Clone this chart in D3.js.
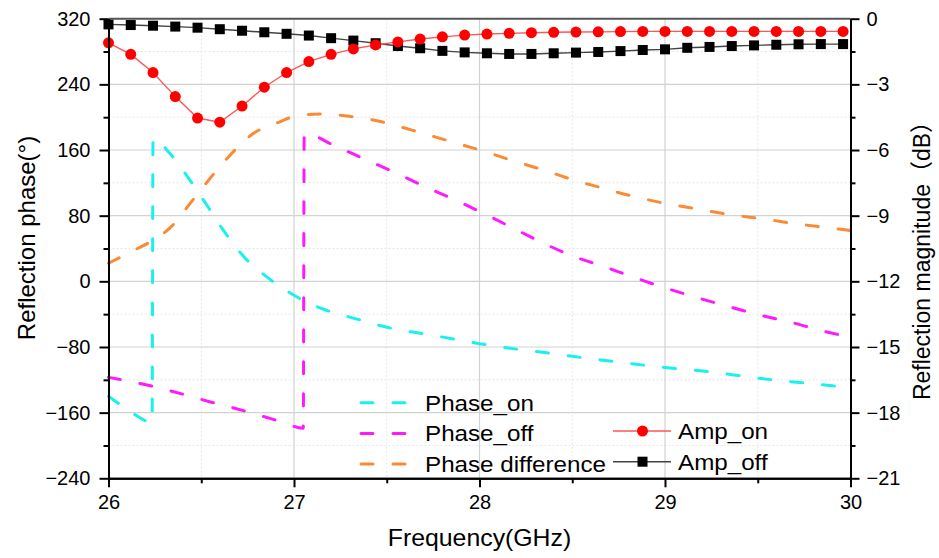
<!DOCTYPE html>
<html>
<head>
<meta charset="utf-8">
<script src="https://cdn.jsdelivr.net/npm/d3@7"></script>
<style>
    body { margin: 0; background: #fff; }
    svg { display: block; font-family: "Liberation Sans", Arial, "Noto Sans CJK SC", sans-serif; }
</style>
</head>
<body>
<script>
// sampled frequencies of the amplitude curves (GHz)
const ampFreqs = [26.00, 26.12, 26.24, 26.36, 26.48, 26.60, 26.72, 26.84, 26.96, 27.08,
    27.20, 27.32, 27.44, 27.56, 27.68, 27.80, 27.92, 28.04, 28.16, 28.28,
    28.40, 28.52, 28.64, 28.76, 28.88, 29.00, 29.12, 29.24, 29.36, 29.48,
    29.60, 29.72, 29.84, 29.96];

// reflection magnitude (dB)
const ampOn = [-1.10, -1.63, -2.46, -3.56, -4.54, -4.73, -3.99, -3.13, -2.46, -1.96,
    -1.63, -1.38, -1.20, -1.06, -0.93, -0.83, -0.75, -0.70, -0.67, -0.64,
    -0.62, -0.61, -0.60, -0.59, -0.58, -0.58, -0.58, -0.58, -0.58, -0.58,
    -0.58, -0.58, -0.58, -0.58];
const ampOff = [-0.26, -0.29, -0.32, -0.36, -0.41, -0.48, -0.55, -0.62, -0.69, -0.77,
    -0.89, -1.00, -1.12, -1.25, -1.35, -1.47, -1.54, -1.58, -1.61, -1.61,
    -1.58, -1.55, -1.52, -1.48, -1.43, -1.40, -1.33, -1.29, -1.25, -1.22,
    -1.19, -1.17, -1.16, -1.16];

// reflection phase (deg), [freq, value]
const phaseOn = [[26.0, -140], [26.1, -156], [26.2, -170], [26.235, -173], [26.24, 174],
    [26.33, 156], [26.44, 123], [26.53, 93], [26.62, 62], [26.73, 30], [26.85, 6],
    [27.0, -17], [27.16, -34], [27.34, -46], [27.52, -57], [27.7, -64], [27.88, -71],
    [28.0, -76], [28.18, -82], [28.36, -87], [28.52, -92], [28.7, -97], [29.0, -105],
    [29.19, -109], [29.37, -114], [29.54, -119], [29.71, -123], [29.93, -128], [30.0, -130]];
const phaseOff = [[26.0, -117], [26.24, -128], [26.55, -147], [26.75, -159], [26.93, -171],
    [27.05, -179], [27.055, 180], [27.23, 164], [27.39, 148], [27.55, 132], [27.7, 116],
    [27.87, 99], [28.02, 83], [28.18, 65], [28.34, 47], [28.5, 31], [28.67, 18], [28.83, 5],
    [29.0, -8], [29.16, -19], [29.33, -30], [29.51, -41], [29.68, -50], [29.86, -61], [30.0, -68]];
const phaseDiff = [[26.0, 22], [26.13, 37], [26.24, 50], [26.34, 67], [26.44, 95], [26.51, 115],
    [26.64, 150], [26.78, 180], [26.93, 195], [27.0, 201], [27.14, 204], [27.3, 201],
    [27.46, 195], [27.64, 184], [27.82, 172], [28.0, 160], [28.18, 147], [28.34, 136],
    [28.5, 124], [28.64, 115], [28.82, 104], [29.0, 95], [29.18, 88], [29.36, 81],
    [29.53, 76], [29.71, 70], [29.89, 65], [30.0, 62]];

// ticks
const freqTicks = [26, 27, 28, 29, 30];
const freqMinor = [26.5, 27.5, 28.5, 29.5];
const phaseTicks = [-240, -160, -80, 0, 80, 160, 240, 320];
const phaseMinor = [-200, -120, -40, 40, 120, 200, 280];
const magTicks = [-21, -18, -15, -12, -9, -6, -3, 0];
const magMinor = [-19.5, -16.5, -13.5, -10.5, -7.5, -4.5, -1.5];

const draw = () => {
    let w = 939,
        h = 558;

    let left = 108.5,
        right = 850.5,
        top = 18.7,
        bottom = 478.3;

    let x = d3.scaleLinear().domain([26, 30]).range([left, right]);
    let y = d3.scaleLinear().domain([-240, 320]).range([bottom, top]);
    let y2 = d3.scaleLinear().domain([-21, 0]).range([bottom, top]);

    let svg = d3.select("body")
        .append("svg")
        .attr("width", w)
        .attr("height", h);

    // minor grid
    svg.selectAll(".gx-minor")
        .data(freqMinor)
        .enter()
        .append("line")
        .attr("x1", d => x(d)).attr("x2", d => x(d))
        .attr("y1", top).attr("y2", bottom)
        .attr("stroke", "#e6e6e6")
        .attr("stroke-dasharray", "2,2");
    svg.selectAll(".gy-minor")
        .data(phaseMinor)
        .enter()
        .append("line")
        .attr("x1", left).attr("x2", right)
        .attr("y1", d => y(d)).attr("y2", d => y(d))
        .attr("stroke", "#e6e6e6")
        .attr("stroke-dasharray", "2,2");

    // major grid
    svg.selectAll(".gx")
        .data(freqTicks.slice(1, -1))
        .enter()
        .append("line")
        .attr("x1", d => x(d)).attr("x2", d => x(d))
        .attr("y1", top).attr("y2", bottom)
        .attr("stroke", "#d2d2d2")
        .attr("stroke-width", 1.2);
    svg.selectAll(".gy")
        .data(phaseTicks.slice(1, -1))
        .enter()
        .append("line")
        .attr("x1", left).attr("x2", right)
        .attr("y1", d => y(d)).attr("y2", d => y(d))
        .attr("stroke", "#d2d2d2")
        .attr("stroke-width", 1.2);

    // phase curves
    let phaseLine = d3.line()
        .x(d => x(d[0]))
        .y(d => y(d[1]))
        .curve(d3.curveMonotoneX);

    let phaseSeries = [
        { name: "Phase_on", data: phaseOn, color: "#19f0f0" },
        { name: "Phase_off", data: phaseOff, color: "#ff19ff" },
        { name: "Phase difference", data: phaseDiff, color: "#fb8a35" }
    ];

    svg.selectAll(".phase")
        .data(phaseSeries)
        .enter()
        .append("path")
        .attr("class", "phase")
        .attr("d", d => phaseLine(d.data))
        .attr("fill", "none")
        .attr("stroke", d => d.color)
        .attr("stroke-width", 3)
        .attr("stroke-linecap", "round")
        .attr("stroke-dasharray", "12,20");

    // amplitude curves
    let ampLine = d3.line()
        .x((d, i) => x(ampFreqs[i]))
        .y(d => y2(d));

    svg.append("path")
        .attr("d", ampLine(ampOff))
        .attr("fill", "none")
        .attr("stroke", "#444")
        .attr("stroke-width", 1.4);
    svg.selectAll(".sq")
        .data(ampOff)
        .enter()
        .append("rect")
        .attr("x", (d, i) => x(ampFreqs[i]) - 5)
        .attr("y", d => y2(d) - 5)
        .attr("width", 10)
        .attr("height", 10)
        .attr("fill", "#000");

    svg.append("path")
        .attr("d", ampLine(ampOn))
        .attr("fill", "none")
        .attr("stroke", "#f55")
        .attr("stroke-width", 1.4);
    svg.selectAll(".dot")
        .data(ampOn)
        .enter()
        .append("circle")
        .attr("cx", (d, i) => x(ampFreqs[i]))
        .attr("cy", d => y2(d))
        .attr("r", 5.5)
        .attr("fill", "#ff0000");

    // top frame
    svg.append("line")
        .attr("x1", left).attr("x2", right)
        .attr("y1", top).attr("y2", top)
        .attr("stroke", "#555")
        .attr("stroke-width", 2);

    // axes
    let styleAxis = g => {
        g.select(".domain").attr("stroke", "#000").attr("stroke-width", 2);
        g.selectAll(".tick line").attr("stroke", "#000").attr("stroke-width", 2);
        g.selectAll("text").attr("font-size", 20).attr("fill", "#000")
            .attr("font-family", "Liberation Sans, Arial, sans-serif");
    };

    svg.append("g")
        .attr("transform", `translate(0,${bottom})`)
        .call(d3.axisBottom(x).tickValues(freqMinor).tickSize(5).tickFormat("").tickSizeOuter(0))
        .call(styleAxis);
    svg.append("g")
        .attr("transform", `translate(0,${bottom})`)
        .call(d3.axisBottom(x).tickValues(freqTicks).tickSize(9).tickPadding(8).tickSizeOuter(0).tickFormat(d3.format("d")))
        .call(styleAxis);

    svg.append("g")
        .attr("transform", `translate(${left},0)`)
        .call(d3.axisLeft(y).tickValues(phaseMinor).tickSize(5).tickFormat("").tickSizeOuter(0))
        .call(styleAxis);
    svg.append("g")
        .attr("transform", `translate(${left},0)`)
        .call(d3.axisLeft(y).tickValues(phaseTicks).tickSize(9).tickPadding(9).tickSizeOuter(0).tickFormat(d3.format("d")))
        .call(styleAxis);

    svg.append("g")
        .attr("transform", `translate(${right},0)`)
        .call(d3.axisRight(y2).tickValues(magMinor).tickSize(5).tickFormat("").tickSizeOuter(0))
        .call(styleAxis);
    svg.append("g")
        .attr("transform", `translate(${right},0)`)
        .call(d3.axisRight(y2).tickValues(magTicks).tickSize(9).tickPadding(7).tickSizeOuter(0).tickFormat(d3.format("d")))
        .call(styleAxis);

    // axis titles
    svg.append("text")
        .attr("transform", `translate(${(left + right) / 2},546) scale(1.08,1)`)
        .attr("text-anchor", "middle")
        .attr("font-size", 23)
        .text("Frequency(GHz)");
    svg.append("text")
        .attr("transform", "translate(35,238) rotate(-90)")
        .attr("text-anchor", "middle")
        .attr("font-size", 24)
        .text("Reflection phase(°)");
    svg.append("text")
        .attr("transform", "translate(930,255) rotate(-90)")
        .attr("text-anchor", "middle")
        .attr("font-size", 23)
        .text("Reflection magnitude（dB）");

    // legend, phase
    let lg = svg.append("g").attr("class", "legend");
    phaseSeries.forEach((s, i) => {
        let ly = 402.7 + i * 30.7;
        lg.append("line")
            .attr("x1", 361).attr("x2", 408)
            .attr("y1", ly).attr("y2", ly)
            .attr("stroke", s.color)
            .attr("stroke-width", 3)
            .attr("stroke-linecap", "round")
            .attr("stroke-dasharray", "12,20");
        lg.append("text")
            .attr("transform", `translate(425,${ly + 8}) scale(1.1,1)`)
            .attr("font-size", 22)
            .text(s.name);
    });

    // legend, amplitude
    let ampLegend = [
        { name: "Amp_on", color: "#f55", shape: "circle", ly: 431 },
        { name: "Amp_off", color: "#444", shape: "square", ly: 461.7 }
    ];
    ampLegend.forEach(s => {
        lg.append("line")
            .attr("x1", 613).attr("x2", 671)
            .attr("y1", s.ly).attr("y2", s.ly)
            .attr("stroke", s.color)
            .attr("stroke-width", 1.4);
        if (s.shape == "circle") {
            lg.append("circle")
                .attr("cx", 642.5).attr("cy", s.ly).attr("r", 5.5)
                .attr("fill", "#ff0000");
        } else {
            lg.append("rect")
                .attr("x", 637.5).attr("y", s.ly - 5)
                .attr("width", 10).attr("height", 10)
                .attr("fill", "#000");
        }
        lg.append("text")
            .attr("transform", `translate(678,${s.ly + 8}) scale(1.1,1)`)
            .attr("font-size", 22)
            .text(s.name);
    });
}

draw()
</script>
</body>
</html>
